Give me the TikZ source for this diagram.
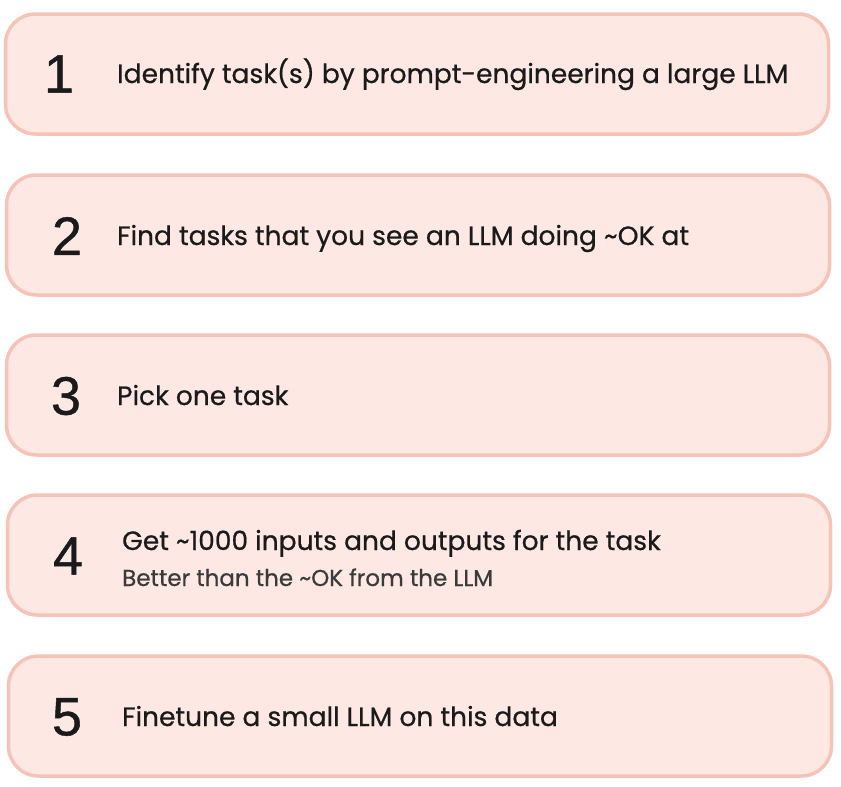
\documentclass[tikz,border=0pt]{standalone}
\usepackage{fontspec}
\setmainfont{Poppins}[FakeBold=0.6]
\newfontfamily\numfont{Liberation Sans}[FakeBold=0.8]
\definecolor{boxfill}{HTML}{FDE8E3}
\definecolor{boxline}{HTML}{F5C3B7}
\definecolor{inktext}{HTML}{1A1A1A}
\definecolor{subtext}{HTML}{3A3A3A}

\begin{document}
\begin{tikzpicture}[x=1pt, y=-1pt,
	stepbox/.style={draw=boxline, line width=3.5pt, fill=boxfill, rounded corners=30pt, minimum width=823pt, minimum height=120pt},
	stepnum/.style={font=\numfont\fontsize{54}{54}\selectfont, text=inktext, inner sep=0pt},
	steptext/.style={font=\fontsize{26.5}{26.5}\selectfont, text=inktext, anchor=base west, inner sep=0pt},
	stepsub/.style={font=\fontsize{23}{23}\selectfont, text=subtext, anchor=base west, inner sep=0pt}]
	\useasboundingbox (0,0) rectangle (841,787);
	% boxes
	\node[stepbox] (b1) at (417,74) {};
	\node[stepbox] (b2) at (418,235) {};
	\node[stepbox] (b3) at (418,395) {};
	\node[stepbox] (b4) at (419,555) {};
	\node[stepbox] (b5) at (420,716) {};
	% numbers
	\node[stepnum] (n1) at (59,74) {1};
	\node[stepnum] (n2) at (67,236) {2};
	\node[stepnum] (n3) at (66,396) {3};
	\node[stepnum] (n4) at (68,556) {4};
	\node[stepnum] (n5) at (67,717) {5};
	% texts
	\node[steptext] (t1) at (117,83) {Identify task(s) by prompt-engineering a large LLM};
	\node[steptext] (t2) at (117,245) {Find tasks that you see an LLM doing \textasciitilde OK at};
	\node[steptext] (t3) at (117,405) {Pick one task};
	\node[steptext] (t4) at (122,550) {Get \textasciitilde 1000 inputs and outputs for the task};
	\node[stepsub] (s4) at (122,586) {Better than the \textasciitilde OK from the LLM};
	\node[steptext] (t5) at (122,726) {Finetune a small LLM on this data};
\end{tikzpicture}
\end{document}
